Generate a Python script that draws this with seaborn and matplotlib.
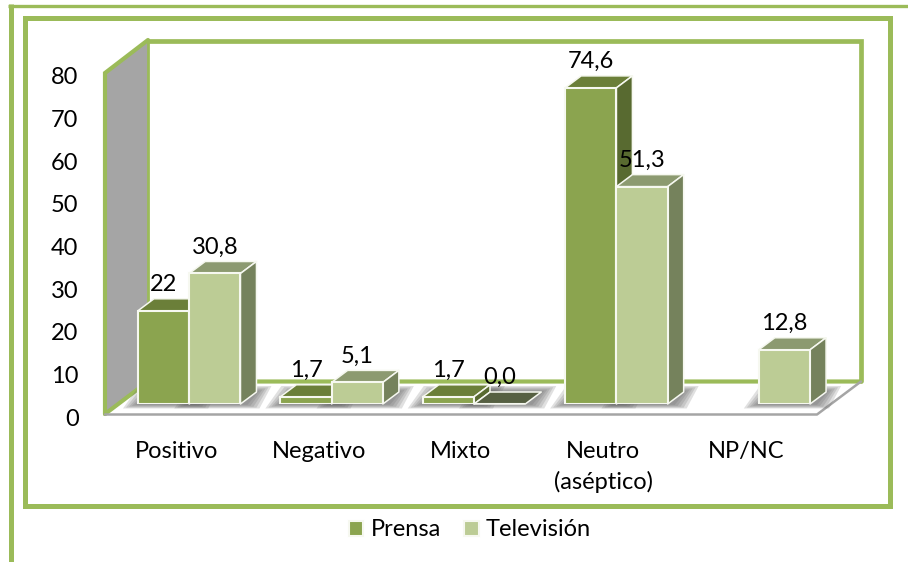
import pandas as pd
import numpy as np
import matplotlib
matplotlib.use("Agg")
import matplotlib.pyplot as plt
from matplotlib.patches import Polygon, Rectangle
import seaborn as sns

categorias = ["Positivo", "Negativo", "Mixto", "Neutro\n(aséptico)", "NP/NC"]
prensa = [22, 1.7, 1.7, 74.6, None]
television = [30.8, 5.1, 0.0, 51.3, 12.8]
prensa_txt = ["22", "1,7", "1,7", "74,6", ""]
television_txt = ["30,8", "5,1", "0,0", "51,3", "12,8"]
ticks_y = [0, 10, 20, 30, 40, 50, 60, 70, 80]

verde = "#9bbb59"
col_frente = {"Prensa": "#8ba44f", "Televisión": "#bccc95"}
col_top = {"Prensa": "#6b7f39", "Televisión": "#8c9a70"}
col_lado = {"Prensa": "#586a30", "Televisión": "#75825c"}
col_cero = "#566042"
col_borde = "#f6f8f0"
fs = 17

W, H = 908, 562
sns.set_theme(style="white")
plt.rcParams["font.family"] = ["Lato", "DejaVu Sans"]
fig = plt.figure(figsize=(W / 100, H / 100), dpi=100, facecolor="white")


def caja(x0, x1, ytop, ybot):
    # posicion en pixeles de la imagen -> fraccion de figura
    return [x0 / W, 1 - ybot / H, (x1 - x0) / W, (ybot - ytop) / H]


# fondo: marcos, paredes y suelo en pixeles
bg = fig.add_axes([0, 0, 1, 1], zorder=0)
bg.set_xlim(0, W)
bg.set_ylim(H, 0)
bg.axis("off")
bg.plot([10.5, 10.5], [4, 562], color=verde, lw=3.6, solid_capstyle="butt")
bg.plot([8, 908], [5.5, 5.5], color=verde, lw=2.4, solid_capstyle="butt")
bg.add_patch(Rectangle((24.5, 17.5), 865, 488, fill=False, ec=verde, lw=3.6))
bg.add_patch(Polygon([(105, 73), (148, 40), (148, 381), (105, 414)], fc="#a5a5a5", ec="none"))
bg.plot([148, 861, 861], [40.5, 40.5, 381], color=verde, lw=3.4, solid_joinstyle="miter")
bg.plot([148, 148], [40, 381], color=verde, lw=2)
bg.plot([105, 105, 148], [414, 73, 40], color=verde, lw=3, solid_joinstyle="miter")
bg.add_patch(Polygon([(105, 414), (148, 381), (861, 381), (817, 414)], fc="white", ec="none"))
bg.plot([105, 148, 861], [414, 381.5, 381.5], color=verde, lw=3)
bg.plot([105, 817, 861], [414.5, 414.5, 381.5], color="#a5a5a5", lw=1.8)

# eje con las etiquetas (plano frontal)
ax_ejes = fig.add_axes(caja(105, 817, 76, 417), zorder=1)
ax_ejes.patch.set_alpha(0)
ax_ejes.set_xlim(-0.5, 4.5)
ax_ejes.set_ylim(0, 80)
ax_ejes.set_xticks(range(len(categorias)))
ax_ejes.set_xticklabels(categorias, fontsize=fs, color="black", linespacing=1.5, va="top")
ax_ejes.set_yticks(ticks_y)
ax_ejes.set_yticklabels(ticks_y, fontsize=fs, color="black")
ax_ejes.tick_params(axis="x", length=0, pad=17)
ax_ejes.tick_params(axis="y", length=0, pad=19)
sns.despine(ax=ax_ejes, left=True, bottom=True)

# barras
ax = fig.add_axes(caja(118, 830, 65, 404), zorder=2)
ax.patch.set_alpha(0)
df = pd.DataFrame({
    "cat": categorias * 2,
    "valor": prensa + television,
    "medio": ["Prensa"] * 5 + ["Televisión"] * 5,
})
sns.barplot(data=df, x="cat", y="valor", hue="medio", order=categorias, palette=col_frente,
            saturation=1, width=0.72, gap=0, edgecolor=col_borde, linewidth=1.5, ax=ax,
            err_kws={"linewidth": 0})
ax.set_xlim(-0.5, 4.5)
ax.set_ylim(0, 80)

px = 1 / 142.4
py = 1 / 4.24
dx = 16 * px
dy = 12 * py

textos = {"Prensa": prensa_txt, "Televisión": television_txt}
for k, medio in enumerate(["Prensa", "Televisión"]):
    cont = ax.containers[k]
    for i, b in enumerate(cont.patches):
        h = b.get_height()
        if np.isnan(h):
            continue
        x0, w = b.get_x(), b.get_width()
        # sombra difusa en el suelo
        for e in [15, 12, 9, 6, 3]:
            ax.add_patch(Polygon([(x0 - e * px, -e * 0.3 * py), (x0 + w + (e + 4) * px, -e * 0.3 * py),
                                  (x0 + w + dx + e * px, dy + e * 0.4 * py), (x0 + dx - e * px, dy + e * 0.4 * py)],
                                 fc="#666666", alpha=0.2, ec="none", zorder=1, clip_on=False))
        z = 3 + k
        b.set_zorder(z + 0.5)
        borde = dict(ec=col_borde, lw=1.1, clip_on=False, joinstyle="round")
        ax.add_patch(Polygon([(x0, h), (x0 + w, h), (x0 + w + dx, h + dy), (x0 + dx, h + dy)],
                             fc=col_cero if h == 0 else col_top[medio], zorder=z, **borde))
        if h > 0:
            ax.add_patch(Polygon([(x0 + w, 0), (x0 + w + dx, dy), (x0 + w + dx, h + dy), (x0 + w, h)],
                                 fc=col_lado[medio], zorder=z, **borde))
        ax.annotate(textos[medio][i], (x0 + w / 2, h), xytext=(0, 19), textcoords="offset points",
                    ha="center", va="center", fontsize=fs, color="black", zorder=10, annotation_clip=False)
ax.set_axis_off()

leg = ax.get_legend()
handles = leg.legend_handles
ax.legend(handles=handles, labels=["Prensa", "Televisión"], loc="center",
          bbox_to_anchor=(470 / W, 1 - 530 / H), bbox_transform=fig.transFigure, ncol=2,
          frameon=False, fontsize=fs, handlelength=0.62, handleheight=0.62,
          handletextpad=0.3, columnspacing=1.0, labelcolor="black")

fig.savefig("out.png", dpi=100)
